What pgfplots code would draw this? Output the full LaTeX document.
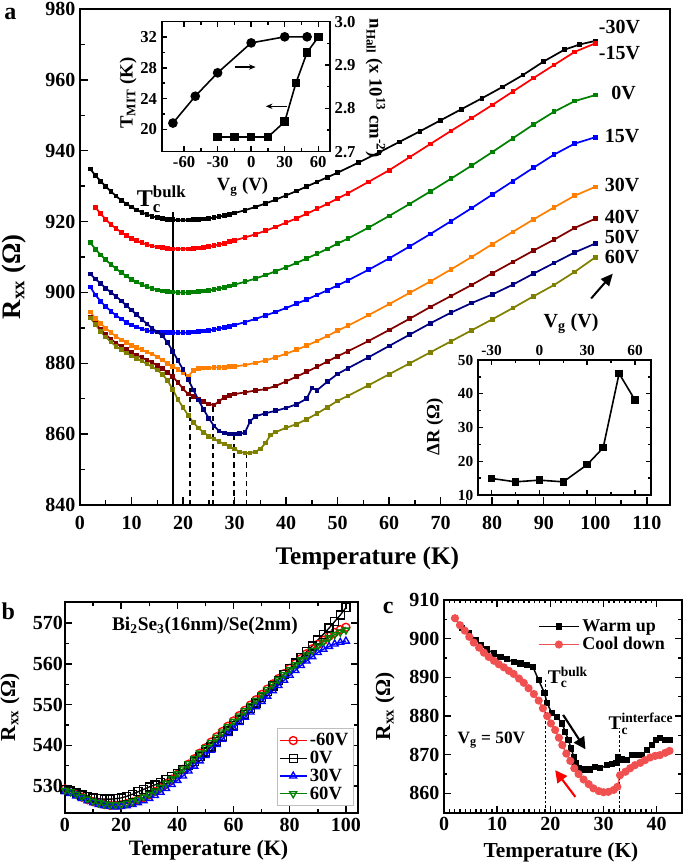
\documentclass[border=0pt]{standalone}
\usepackage{fontspec}
\setmainfont{Liberation Serif}
\usepackage{amsmath}
\usepackage{pgfplots}
\usepackage{pgfplotstable}
\pgfplotsset{compat=1.18}
\usetikzlibrary{arrows.meta}
\definecolor{cOrange}{RGB}{255,128,0}
\definecolor{cDarkRed}{RGB}{128,0,0}
\definecolor{cNavy}{RGB}{0,0,128}
\definecolor{cOlive}{RGB}{128,128,0}
\definecolor{cGreen}{RGB}{0,128,0}
\definecolor{cRed}{RGB}{255,0,0}
\definecolor{cBlue}{RGB}{0,0,255}
\definecolor{cLightRed}{RGB}{240,80,80}
\newcommand\fs[1]{\bfseries\fontsize{#1}{#1}\selectfont}
\pgfplotsset{
  common/.style={
    scale only axis, anchor=south west,
    tick align=inside,
    axis line style={line width=1.4pt},
    every tick/.append style={line width=1.1pt, black},
    major tick length=5pt, minor tick length=3pt,
    /pgf/number format/assume math mode=true,
    /pgf/number format/1000 sep={},
  },
}
\pgfplotstableread{
T    m60    z0     p30    p60
0    529.3  529.2  528.6  529.0
2    528.7  528.8  528.2  528.6
4    528.0  528.3  527.6  528.0
6    527.3  527.8  527.0  527.4
8    526.7  527.4  526.4  526.8
10   526.2  527.1  525.9  526.3
12   525.8  526.9  525.5  525.9
14   525.5  526.8  525.2  525.6
16   525.3  526.8  525.0  525.4
18   525.3  526.9  524.9  525.4
20   525.4  527.1  525.0  525.5
22   525.7  527.5  525.2  525.8
24   526.1  528.0  525.5  526.2
26   526.6  528.6  525.9  526.7
28   527.2  529.2  526.4  527.3
30   527.9  529.8  527.0  528.0
32   528.7  530.3  527.7  528.8
34   529.6  530.9  528.5  529.7
36   530.6  531.6  529.4  530.7
38   531.7  532.3  530.4  531.8
40   532.9  533.1  531.4  533.0
42   534.1  534.0  532.5  534.2
44   535.4  535.0  533.7  535.5
46   536.7  536.1  534.9  536.8
48   538.1  537.2  536.2  538.1
50   539.4  538.4  537.5  539.4
52   540.8  539.6  538.8  540.7
54   542.1  540.9  540.2  542.0
56   543.4  542.2  541.5  543.3
58   544.7  543.5  542.9  544.6
60   546.0  544.8  544.2  545.9
62   547.3  546.2  545.6  547.2
64   548.6  547.6  546.9  548.5
66   549.9  549.0  548.2  549.8
68   551.2  550.4  549.5  551.1
70   552.5  551.8  550.8  552.4
72   553.8  553.2  552.1  553.7
74   555.1  554.6  553.4  555.0
76   556.4  556.0  554.7  556.2
78   557.6  557.4  556.0  557.4
80   558.9  558.8  557.2  558.6
82   560.1  560.2  558.4  559.8
84   561.3  561.6  559.6  561.0
86   562.5  563.0  560.7  562.2
88   563.7  564.4  561.8  563.3
90   564.8  565.9  562.8  564.4
92   565.8  567.3  563.6  565.4
94   566.8  568.8  564.3  566.4
96   567.7  570.4  564.9  567.2
98   568.4  572.0  565.3  567.8
100  569.0  573.8  565.6  568.3
}\tableb
\begin{document}
\begin{tikzpicture}
\path[use as bounding box] (0,0) rectangle (513.75pt,648.75pt);
% ================= main panel a =================
\begin{axis}[common, at={(60pt,270pt)}, width=442.5pt, height=372pt,
  xmin=0, xmax=114.5, ymin=840, ymax=980,
  xtick={0,10,...,110}, ytick={840,860,...,980},
  minor x tick num=1, minor y tick num=1,
  xtick pos=bottom, ytick pos=left,
  major tick length=6pt, minor tick length=3.5pt,
  xticklabel style={font=\fs{15}, yshift=-5pt},
  yticklabel style={font=\fs{15}},
  xlabel={Temperature (K)}, ylabel={R\textsubscript{xx} (Ω)},
  xlabel style={font=\fs{19}, at={(axis description cs:0.487,-0.107)}, anchor=center},
  ylabel style={font=\fs{20}, at={(axis description cs:-0.112,0.46)}, anchor=center},
  every axis plot/.append style={line width=1.3pt, mark=square*, mark size=1.1pt},
]
\addplot[black, mark options={black}] coordinates {(2,934.8)(3,933.0)(4,931.4)(5,929.9)(6,928.5)(7,927.2)(8,926.0)(9,925.0)(10,924.1)(11,923.3)(12,922.6)(13,922.0)(14,921.5)(15,921.1)(16,920.8)(17,920.6)(18,920.5)(19,920.4)(20,920.4)(21,920.4)(22,920.5)(23,920.6)(24,920.7)(25,920.9)(26,921.1)(27,921.4)(28,921.7)(29,922.0)(30,922.4)(32,923.2)(34,924.1)(36,925.1)(38,926.2)(40,927.4)(42,928.6)(44,929.9)(46,931.2)(48,932.5)(50,933.8)(54,936.6)(58,939.5)(62,942.5)(66,945.5)(70,948.6)(74,951.7)(78,954.8)(82,958.0)(86,961.4)(90,965.2)(94,968.5)(97,970.0)(100,971.0)};
\addplot[cRed, mark options={cRed}] coordinates {(3,924.0)(4,922.2)(5,920.6)(6,919.2)(7,918.0)(8,917.0)(9,916.1)(10,915.3)(11,914.6)(12,914.0)(13,913.5)(14,913.1)(15,912.8)(16,912.6)(17,912.4)(18,912.3)(19,912.3)(20,912.3)(21,912.3)(22,912.4)(23,912.5)(24,912.7)(25,912.9)(26,913.2)(27,913.5)(28,913.9)(29,914.3)(30,914.7)(32,915.5)(34,916.4)(36,917.4)(38,918.5)(40,919.7)(42,920.9)(44,922.2)(46,923.6)(48,925.0)(50,926.5)(52,928.0)(56,931.2)(60,934.5)(64,938.2)(68,941.9)(72,945.6)(76,949.2)(80,952.9)(84,956.7)(88,960.5)(92,964.2)(96,967.9)(100,970.3)};
\addplot[cGreen, mark options={cGreen}] coordinates {(2,914.0)(3,912.2)(4,910.6)(5,909.2)(6,907.9)(7,906.7)(8,905.6)(9,904.6)(10,903.7)(11,902.9)(12,902.2)(13,901.6)(14,901.1)(15,900.7)(16,900.4)(17,900.2)(18,900.1)(19,900.0)(20,900.0)(21,900.0)(22,900.1)(23,900.2)(24,900.4)(25,900.6)(26,900.8)(27,901.1)(28,901.4)(29,901.8)(30,902.2)(32,903.0)(34,903.9)(36,904.9)(38,906.0)(40,907.1)(42,908.3)(44,909.6)(46,910.9)(48,912.3)(50,913.8)(52,915.2)(56,918.3)(60,921.6)(64,925.0)(68,928.5)(72,932.1)(76,935.8)(80,939.6)(84,943.5)(88,947.4)(92,951.0)(96,954.0)(100,955.7)};
\addplot[cBlue, mark options={cBlue}] coordinates {(2,901.5)(3,899.3)(4,897.5)(5,896.0)(6,894.7)(7,893.5)(8,892.5)(9,891.6)(10,890.8)(11,890.2)(12,889.7)(13,889.3)(14,889.0)(15,888.8)(16,888.7)(17,888.6)(18,888.6)(19,888.6)(20,888.6)(21,888.7)(22,888.8)(23,888.9)(24,889.1)(25,889.3)(26,889.5)(27,889.8)(28,890.1)(29,890.4)(30,890.8)(32,891.6)(34,892.5)(36,893.5)(38,894.5)(40,895.6)(42,896.8)(44,898.0)(46,899.3)(48,900.6)(50,902.0)(52,903.4)(56,906.4)(60,909.6)(64,913.0)(68,916.5)(72,920.1)(76,923.8)(80,927.6)(84,931.4)(88,935.2)(92,938.9)(96,942.0)(100,943.8)};
\addplot[cOrange, mark options={cOrange}] coordinates {(2,894.5)(3,892.6)(4,891.2)(5,889.9)(6,888.7)(7,887.6)(8,886.6)(9,885.8)(10,885.0)(11,884.4)(12,883.8)(13,883.2)(14,882.6)(15,881.8)(16,880.9)(17,880.0)(18,879.1)(19,878.3)(20,877.3)(21,876.3)(22,878.0)(23,878.5)(24,878.7)(25,878.7)(26,878.8)(27,878.8)(28,878.9)(29,879.0)(30,879.1)(32,879.5)(34,880.1)(36,880.8)(38,881.7)(40,882.7)(42,883.8)(44,885.0)(46,886.3)(48,887.7)(50,889.2)(52,890.6)(56,893.6)(60,896.7)(64,899.9)(68,903.1)(72,906.5)(76,910.0)(80,913.6)(84,917.1)(88,920.6)(92,924.0)(96,927.3)(100,929.8)};
\addplot[cDarkRed, mark options={cDarkRed}] coordinates {(2,893.0)(3,891.2)(4,889.6)(5,888.1)(6,886.8)(7,885.7)(8,884.7)(9,883.8)(10,883.0)(11,882.3)(12,881.6)(13,880.9)(14,880.2)(15,879.4)(16,878.5)(17,877.4)(18,876.2)(19,874.6)(20,872.8)(21,871.3)(22,870.6)(23,869.9)(24,869.2)(25,868.5)(26,868.2)(27,869.3)(28,870.4)(29,871.0)(30,871.3)(32,871.8)(34,872.3)(36,872.7)(38,873.6)(40,874.9)(42,876.2)(44,877.6)(46,879.0)(48,880.5)(50,882.0)(52,883.4)(56,886.3)(60,889.4)(64,892.6)(68,895.9)(72,899.0)(76,902.1)(80,905.4)(84,908.6)(88,911.8)(92,914.9)(96,918.2)(100,920.8)};
\addplot[cNavy, mark options={cNavy}] coordinates {(2,905.2)(3,903.8)(4,902.5)(5,901.2)(6,900.0)(7,898.9)(8,897.6)(9,896.3)(10,895.0)(11,893.7)(12,892.4)(13,891.1)(14,889.9)(15,888.8)(16,887.8)(17,885.8)(18,883.4)(19,880.8)(20,878.2)(21,875.4)(22,872.5)(23,869.6)(24,866.9)(25,864.5)(26,862.3)(27,860.9)(28,860.3)(29,860.0)(30,860.0)(31,860.1)(32,860.4)(33,863.6)(34,865.0)(36,865.9)(38,866.6)(40,867.4)(42,868.4)(44,870.0)(45,873.0)(46,872.4)(48,874.8)(50,877.0)(52,878.6)(56,881.7)(60,884.9)(64,888.1)(68,891.3)(72,894.3)(76,897.0)(80,899.4)(84,902.2)(88,905.3)(92,908.3)(96,911.3)(100,913.8)};
\addplot[cOlive, mark options={cOlive}] coordinates {(2,892.8)(3,891.0)(4,889.0)(5,887.4)(6,886.0)(7,884.8)(8,883.8)(9,882.9)(10,882.1)(11,881.4)(12,880.6)(13,879.8)(14,879.0)(15,878.1)(16,876.9)(17,875.1)(18,872.6)(19,869.8)(20,867.5)(21,865.3)(22,863.3)(23,861.7)(24,860.5)(25,859.4)(26,858.6)(27,857.9)(28,857.2)(29,856.5)(30,855.8)(31,855.0)(32,854.7)(33,854.7)(34,855.0)(35,855.8)(36,857.5)(37,859.8)(38,860.6)(40,861.8)(42,862.8)(44,864.2)(46,865.8)(48,867.6)(50,869.4)(52,870.8)(56,873.8)(60,876.9)(64,880.0)(68,883.1)(72,886.2)(76,889.3)(80,892.4)(84,895.6)(88,898.9)(92,902.1)(96,905.8)(100,909.9)};
% Tc lines
\addplot[black, line width=1.3pt, mark=none] coordinates {(18,840) (18,922.7)};
\addplot[black, line width=1.3pt, mark=none, dash pattern=on 4pt off 3pt] coordinates {(21.3,840) (21.3,876.3)};
\addplot[black, line width=1.3pt, mark=none, dash pattern=on 4pt off 3pt] coordinates {(25.8,840) (25.8,868.2)};
\addplot[black, line width=1.3pt, mark=none, dash pattern=on 4pt off 3pt] coordinates {(29.9,840) (29.9,860.0)};
\addplot[black, line width=1.3pt, mark=none, dash pattern=on 4pt off 3pt] coordinates {(32.3,840) (32.3,854.7)};
\node[font=\fs{18}, anchor=base west, inner sep=0pt] at (axis cs:11,924.3) {T$_{\text{c}}^{\text{bulk}}$};
% voltage labels
\node[font=\fs{15}] at (axis cs:104.7,975.0) {-30V};
\node[font=\fs{15}] at (axis cs:104.7,967.5) {-15V};
\node[font=\fs{15}] at (axis cs:105.5,956.2) {0V};
\node[font=\fs{15}] at (axis cs:105.2,944.0) {15V};
\node[font=\fs{15}] at (axis cs:105.2,930.3) {30V};
\node[font=\fs{15}] at (axis cs:105.2,921.4) {40V};
\node[font=\fs{15}] at (axis cs:105.2,915.6) {50V};
\node[font=\fs{15}] at (axis cs:105.2,910.1) {60V};
\draw[line width=1.5pt, -{Triangle[length=9pt,width=8pt]}] (axis cs:99.2,898.3) -- (axis cs:103.4,905.3);
\end{axis}
% ================= inset 1 (right axis, n_Hall) =================
\begin{axis}[common, at={(121.3pt,535pt)}, width=126.2pt, height=97.5pt,
  xmin=-80, xmax=70.5, ymin=2.7, ymax=3.0,
  axis x line=none, axis y line*=right,
  ytick={2.7,2.8,2.9,3.0}, minor y tick num=1,
  major tick length=4pt, minor tick length=2.5pt,
  axis line style={line width=1.2pt},
  yticklabel style={font=\fs{12.5}, /pgf/number format/fixed, /pgf/number format/fixed zerofill, /pgf/number format/precision=1},
  ylabel={n\textsubscript{Hall} (x 10\textsuperscript{13} cm\textsuperscript{-2})},
  ylabel style={font=\fs{14}, at={(axis description cs:1.27,0.49)}, anchor=center, rotate=180},
]
\addplot[black, line width=1.2pt, mark=*, mark size=3pt] coordinates {(-70,2.766)(-50,2.828)(-30,2.882)(0,2.951)(30,2.965)(50,2.965)};
\end{axis}
% ================= inset 1 (left axis, T_MIT) =================
\begin{axis}[common, at={(121.3pt,535pt)}, width=126.2pt, height=97.5pt,
  xmin=-80, xmax=70.5, ymin=17.1, ymax=34,
  xtick={-60,-30,0,30,60}, minor x tick num=1,
  ytick={20,24,28,32}, minor y tick num=1,
  xtick pos=both, xticklabel pos=lower, ytick pos=left,
  major tick length=4pt, minor tick length=2.5pt,
  axis line style={line width=1.2pt},
  xticklabel style={font=\fs{12.5}},
  yticklabel style={font=\fs{12.5}},
  xlabel={V\textsubscript{g} (V)}, ylabel={T\textsubscript{MIT} (K)},
  xlabel style={font=\fs{14}, at={(axis description cs:0.48,-0.27)}, anchor=center},
  ylabel style={font=\fs{14}, at={(axis description cs:-0.2,0.45)}, anchor=center},
]
\addplot[black, line width=1.2pt, mark=square*, mark size=2.6pt] coordinates {(-30,19)(-15,19)(0,19)(15,19)(30,21)(40,26)(50,30)(60,32)};
\draw[line width=0.9pt, -{Stealth[length=5pt,width=4pt]}] (axis cs:-14.3,28.1) -- (axis cs:4,28.1);
\draw[line width=0.9pt, -{Stealth[length=5pt,width=4pt]}] (axis cs:31.9,23.0) -- (axis cs:13.1,23.0);
\end{axis}
% ================= inset 2 (Delta R) =================
\begin{axis}[common, at={(358.5pt,277.5pt)}, width=129.75pt, height=101.25pt,
  xmin=-38.5, xmax=70, ymin=10, ymax=50,
  xtick={-30,0,30,60}, minor x tick num=1,
  ytick={10,20,...,50}, minor y tick num=1,
  xtick pos=both, ytick pos=both, xticklabel pos=upper,
  major tick length=4pt, minor tick length=2.5pt,
  axis line style={line width=1.2pt},
  tick label style={font=\fs{11.5}},
  xlabel={V\textsubscript{g} (V)}, ylabel={ΔR (Ω)},
  xlabel style={font=\fs{15}, at={(axis description cs:0.538,1.267)}, anchor=center},
  ylabel style={font=\fs{14}, at={(axis description cs:-0.249,0.506)}, anchor=center},
]
\addplot[black, line width=1.2pt, mark=square*, mark size=2.2pt] coordinates {(-30,14.9)(-15,13.9)(0,14.4)(15,13.9)(30,19.0)(40,24.0)(50,46.0)(60,38.1)};
\end{axis}
% ================= panel b =================
\begin{axis}[common, at={(48.75pt,39pt)}, width=219.75pt, height=158.25pt,
  xmin=0, xmax=104.3, ymin=523.4, ymax=575.2,
  xtick={0,20,...,100}, minor x tick num=1,
  ytick={530,540,...,570}, minor y tick num=1,
  xtick pos=both, ytick pos=both,
  tick label style={font=\fs{15}},
  yticklabel style={xshift=2pt},
  xlabel={Temperature (K)}, ylabel={R\textsubscript{xx} (Ω)},
  xlabel style={font=\fs{16.5}, at={(axis description cs:0.49,-0.175)}, anchor=center},
  ylabel style={font=\fs{16}, at={(axis description cs:-0.188,0.5)}, anchor=center},
  legend style={at={(axis cs:75.4,525.1)}, anchor=south west, draw=gray!50, line width=0.6pt, font=\fs{14}, inner sep=1.5pt, row sep=-1.5pt, fill=white},
  legend cell align=left,
  legend image code/.code={\draw[mark repeat=2,mark phase=2,#1] plot coordinates {(0pt,0pt) (10pt,0pt) (20pt,0pt)};},
  every axis plot/.append style={line width=1.0pt, mark size=3pt, mark options={fill=white, line width=1.0pt}},
]
\addplot[cRed, mark=o] table[x=T, y=m60] {\tableb};
\addlegendentry{-60V}
\addplot[black, mark=square] table[x=T, y=z0] {\tableb};
\addlegendentry{0V}
\addplot[cBlue, mark=triangle] table[x=T, y=p30] {\tableb};
\addlegendentry{30V}
\addplot[cGreen, mark=triangle, mark options={rotate=180, fill=white}] table[x=T, y=p60] {\tableb};
\addlegendentry{60V}
\node[font=\fs{14.5}] at (axis cs:49.8,569.4) {Bi\textsubscript{2}Se\textsubscript{3}(16nm)/Se(2nm)};
\end{axis}
% ================= panel c =================
\begin{axis}[common, at={(333pt,39.2pt)}, width=178.3pt, height=159.5pt,
  xmin=0, xmax=44.7, ymin=855, ymax=910,
  xtick={0,10,...,40}, minor x tick num=9,
  ytick={860,870,...,910}, minor y tick num=1,
  xtick pos=both, ytick pos=both,
  major tick length=5pt, minor tick length=2.5pt,
  tick label style={font=\fs{15}},
  xlabel={Temperature (K)}, ylabel={R\textsubscript{xx} (Ω)},
  xlabel style={font=\fs{16}, at={(axis description cs:0.492,-0.187)}, anchor=center},
  ylabel style={font=\fs{16}, at={(axis description cs:-0.248,0.5)}, anchor=center},
  legend style={at={(0.958,0.935)}, anchor=north east, draw=none, fill=none, font=\fs{13.5}, row sep=-1pt},
  legend cell align=left,
  legend image code/.code={\draw[mark repeat=2,mark phase=2,#1] plot coordinates {(0pt,0pt) (15pt,0pt) (30pt,0pt)};},
]
\addplot[black, line width=1.1pt, mark=square*, mark size=1.8pt] coordinates {(2.06,905.3)(3.4,902.7)(4.7,901.4)(5.9,899.7)(6.9,898.4)(8.1,897.2)(9.4,896.2)(10.6,895.3)(11.9,894.7)(13.1,894.0)(14.4,893.6)(15.6,893.2)(16.75,892.6)(17.8,889.3)(18.9,885.9)(19.4,883.3)(20.3,880.7)(21.25,879.8)(22.2,878.1)(22.8,875.9)(23.4,873.8)(23.9,871.6)(24.4,869.5)(24.7,867.8)(25.3,866.5)(26.25,866.2)(27.5,866.2)(28.4,866.9)(29.4,866.5)(30.6,867.3)(31.6,867.6)(32.4,867.9)(32.7,869.5)(33.4,868.8)(34.4,868.6)(35.3,869.9)(36.25,869.9)(37.2,869.9)(38.1,871.2)(39.1,872.5)(39.9,873.8)(40.6,874.4)(41.6,873.8)(42.5,873.8)};
\addlegendentry{Warm up}
\addplot[cLightRed, line width=1.1pt, mark=*, mark size=2.5pt] coordinates {(2.06,905.3)(3,903.5)(3.9,902.1)(4.75,900.5)(5.6,899.0)(6.6,897.7)(7.5,896.4)(8.4,895.3)(9.4,894.3)(10.3,893.4)(11.25,892.6)(12.2,891.7)(13.1,890.9)(14.1,889.7)(15,888.6)(15.9,887.2)(16.9,885.7)(17.8,884.0)(18.6,882.0)(19.4,880.0)(20.1,878.1)(20.9,876.4)(21.6,874.4)(22.25,872.5)(23,870.3)(23.75,868.4)(24.5,866.5)(25.3,865.0)(26.25,863.6)(27.2,862.4)(28.1,861.3)(29.1,860.6)(30,860.3)(30.9,860.4)(31.9,860.9)(32.6,861.7)(33.1,864.7)(34.1,865.6)(35,866.5)(35.9,867.3)(36.9,867.9)(37.8,868.6)(38.75,869.3)(39.7,869.7)(40.6,869.9)(41.6,870.5)(42.4,871.0)};
\addlegendentry{Cool down}
\addplot[black, line width=0.6pt, mark=none, dash pattern=on 2pt off 1.5pt, forget plot] coordinates {(19.1,855) (19.1,889.3)};
\addplot[black, line width=0.6pt, mark=none, dash pattern=on 2pt off 1.5pt, forget plot] coordinates {(33.0,855) (33.0,877.0)};
\node[font=\fs{14.5}, anchor=base west, inner sep=0pt] at (axis cs:19.5,888.5) {T$_{\text{c}}^{\text{bulk}}$};
\node[font=\fs{14.5}, anchor=base west, inner sep=0pt] at (axis cs:30.9,876.5) {T$_{\text{c}}^{\text{interface}}$};
\node[font=\fs{13}, anchor=west, inner sep=0pt] at (axis cs:2.5,873.8) {V\textsubscript{g} = 50V};
\draw[line width=1.6pt, -{Triangle[length=9pt,width=9pt]}] (axis cs:22.4,880.3) -- (axis cs:26.6,871.4);
\draw[line width=1.6pt, cRed, -{Triangle[length=9pt,width=9pt]}] (axis cs:24.7,859.1) -- (axis cs:20.9,866.0);
\end{axis}
% panel letters
\node[font=\fs{18}, anchor=north west, inner sep=0pt] at (3pt,643pt) {a};
\node[font=\fs{18}, anchor=north west, inner sep=0pt] at (1pt,197pt) {b};
\node[font=\fs{18}, anchor=north west, inner sep=0pt] at (287pt,197pt) {c};
\end{tikzpicture}
\end{document}
